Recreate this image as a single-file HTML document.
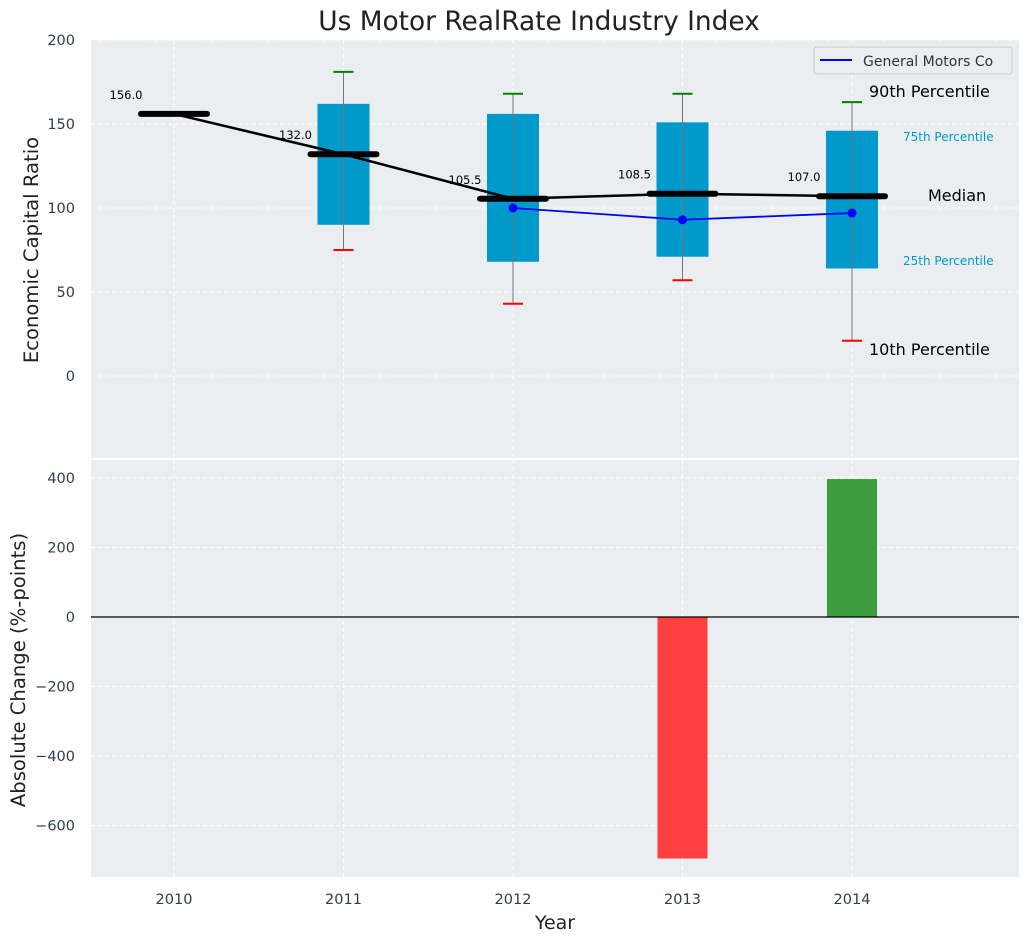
<!DOCTYPE html>
<html><head><meta charset="utf-8"><style>
body{margin:0;background:#fff;}
svg{display:block;font-family:"DejaVu Sans","Liberation Sans",sans-serif;}
</style></head><body>
<svg id="c" width="1029" height="942" viewBox="0 0 1029 942" xmlns="http://www.w3.org/2000/svg">
<text x="539" y="30" font-size="26.4" text-anchor="middle" fill="#222">Us Motor RealRate Industry Index</text>
<rect x="91" y="40" width="928" height="418" fill="#eaeef0"/>
<rect x="91" y="460" width="928" height="417" fill="#eaeef0"/>
<g id="g"></g>
<text transform="translate(38,250) rotate(-90)" font-size="19.6" text-anchor="middle" fill="#222">Economic Capital Ratio</text>
<text transform="translate(25,670) rotate(-90)" font-size="19.6" text-anchor="middle" fill="#222">Absolute Change (%-points)</text>
<text x="555" y="929" font-size="19" text-anchor="middle" fill="#222">Year</text>
<g>
<rect x="814" y="47" width="198" height="27" rx="3" fill="#eaeef0" stroke="#ccc"/>
<line x1="820" y1="60" x2="852" y2="60" stroke="#0000ff" stroke-width="2"/>
<text x="863" y="66" font-size="14" fill="#333">General Motors Co</text>
</g>
<text x="869" y="97" font-size="16" fill="#000">90th Percentile</text>
<text x="903" y="141" font-size="12" fill="#0099cc">75th Percentile</text>
<text x="928" y="201" font-size="16" fill="#000">Median</text>
<text x="903" y="265" font-size="12" fill="#0099cc">25th Percentile</text>
<text x="869" y="355" font-size="16" fill="#000">10th Percentile</text>
</svg>
<script>
const years=[2010,2011,2012,2013,2014];
const medians=[156,132,105.5,108.5,107];
const q1=[null,90,68,71,64];
const q3=[null,162,156,151,146];
const p10=[null,75,43,57,21];
const p90=[null,181,168,168,163];
const gmYears=[2012,2013,2014];
const gmValues=[100,93,97];
const changeYears=[2013,2014];
const changeValues=[-695,397];
const topTicks=[0,50,100,150,200];
const botTicks=[-600,-400,-200,0,200,400];
const NS="http://www.w3.org/2000/svg";
const g=document.getElementById('g');
const X=y=>174+(y-2010)*169.5;
const YT=v=>376-v*1.68;
const YB=v=>617-v*0.3475;
function mk(t,a,txt){const e=document.createElementNS(NS,t);for(const k in a)e.setAttribute(k,a[k]);if(txt!==undefined)e.textContent=txt;g.appendChild(e);return e;}
years.forEach(y=>{
 let e=mk('line',{x1:X(y),x2:X(y),y1:40,y2:458,stroke:'#fff','stroke-dasharray':'4,3'});
 
 e=mk('line',{x1:X(y),x2:X(y),y1:460,y2:877,stroke:'#fff','stroke-dasharray':'4,3'});
 
 e=mk('text',{x:X(y),y:904,'font-size':14.5,'text-anchor':'middle',fill:'#2c3e50'},String(y));
 
});
topTicks.forEach(v=>{
 let e=mk('line',{x1:91,x2:1019,y1:YT(v),y2:YT(v),stroke:'#fff','stroke-dasharray':'4,3'});
 
 e=mk('text',{x:75,y:YT(v)+5,'font-size':14.5,'text-anchor':'end',fill:'#2c3e50'},String(v));
 
});
botTicks.forEach(v=>{
 let e=mk('line',{x1:91,x2:1019,y1:YB(v),y2:YB(v),stroke:'#fff','stroke-dasharray':'4,3'});
 
 e=mk('text',{x:75,y:YB(v)+5,'font-size':14.5,'text-anchor':'end',fill:'#2c3e50'},v<0?'\u2212'+(-v):String(v));
 
});
years.forEach((y,i)=>{
 if(q1[i]===null)return;
 let e=mk('rect',{x:X(y)-26,y:YT(q3[i]),width:52,height:YT(q1[i])-YT(q3[i]),fill:'#0099cc'});
 
 e=mk('line',{x1:X(y),x2:X(y),y1:YT(p90[i]),y2:YT(p10[i]),stroke:'#777','stroke-width':1});
 
 e=mk('line',{x1:X(y)-10,x2:X(y)+10,y1:YT(p90[i]),y2:YT(p90[i]),stroke:'#008000','stroke-width':2});
 
 e=mk('line',{x1:X(y)-10,x2:X(y)+10,y1:YT(p10[i]),y2:YT(p10[i]),stroke:'#ff0000','stroke-width':2});
 
});
let e=mk('polyline',{points:years.map((y,i)=>X(y)+','+YT(medians[i])).join(' '),fill:'none',stroke:'#000','stroke-width':2.5});

years.forEach((y,i)=>{
 let e=mk('line',{x1:X(y)-33,x2:X(y)+33,y1:YT(medians[i]),y2:YT(medians[i]),stroke:'#000','stroke-width':6,'stroke-linecap':'round'});
 
 e=mk('text',{x:X(y)-48,y:YT(medians[i])-15,'font-size':11.5,'text-anchor':'middle',fill:'#000'},medians[i].toFixed(1));
 
});
e=mk('polyline',{points:gmYears.map((y,i)=>X(y)+','+YT(gmValues[i])).join(' '),fill:'none',stroke:'#0000ff','stroke-width':1.8});

gmYears.forEach((y,i)=>{
 const e=mk('circle',{cx:X(y),cy:YT(gmValues[i]),r:4.5,fill:'#0000ff'});
 
});
changeYears.forEach((y,i)=>{
 const v=changeValues[i];
 const e=mk('rect',{x:X(y)-25,y:Math.min(YB(v),YB(0)),width:50,height:Math.abs(YB(v)-YB(0)),fill:v<0?'#ff3e3e':'#3d9c3d'});
 
});
e=mk('line',{x1:91,x2:1019,y1:YB(0),y2:YB(0),stroke:'#000','stroke-width':1.2});

</script>
</body></html>
